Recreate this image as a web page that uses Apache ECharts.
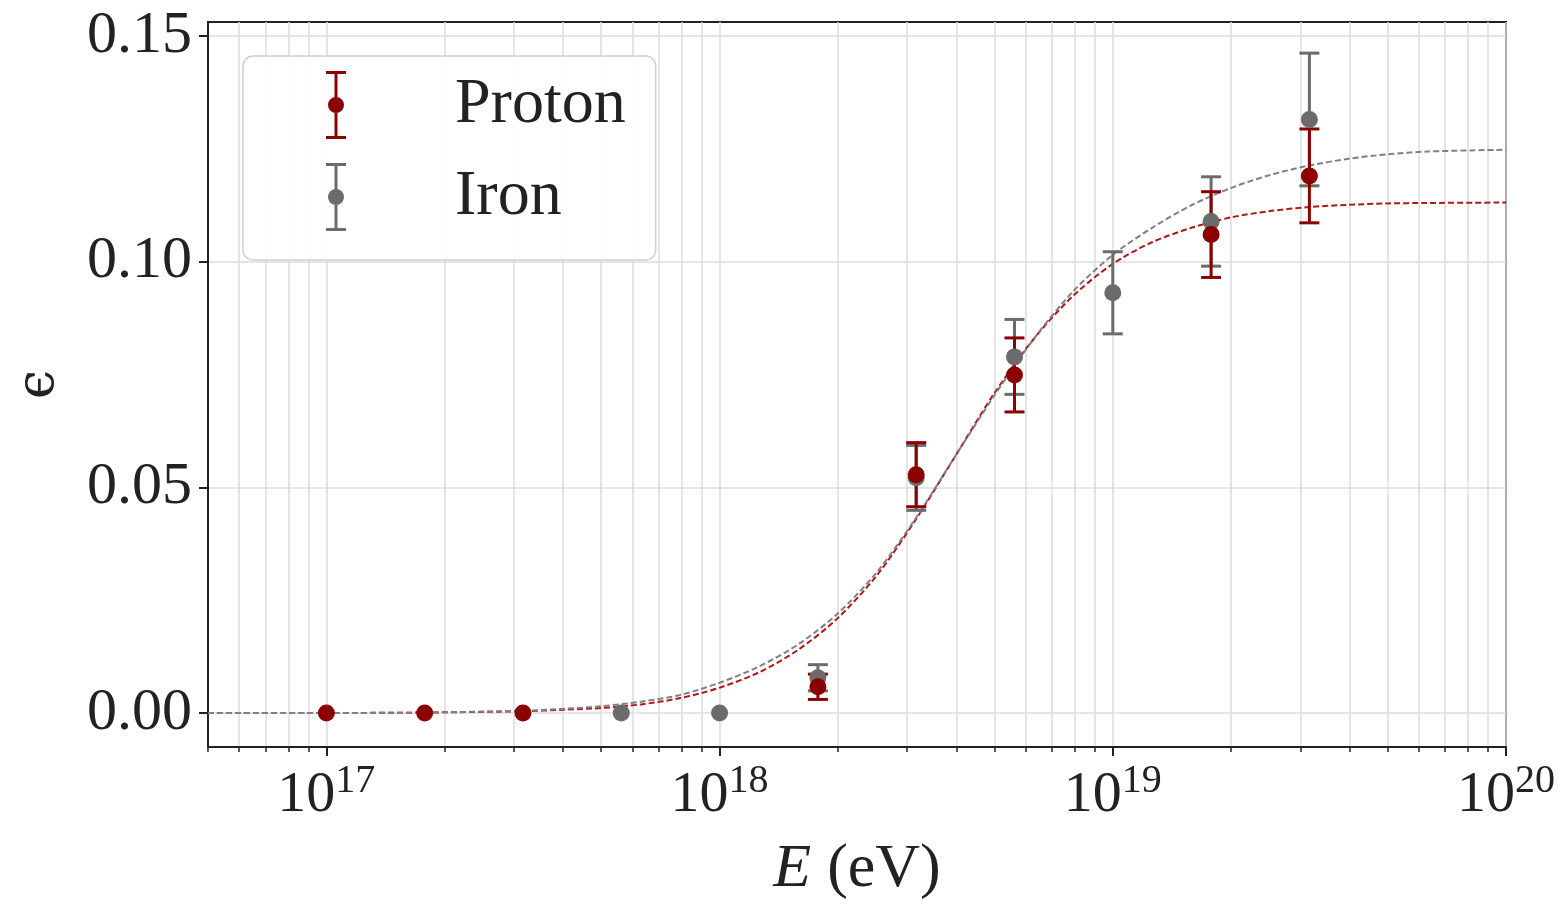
<!DOCTYPE html>
<html>
<head>
<meta charset="utf-8">
<script src="https://cdn.jsdelivr.net/npm/echarts@6/dist/echarts.min.js"></script>
<style>
  html, body { margin: 0; background: #fff; }
  #chart { width: 1561px; height: 904px; }
</style>
</head>
<body>
<div id="chart"></div>
<script>
// measured points (log10 of energy), efficiency and error half-width
const protonLogE = [17, 17.25, 17.5, 18.25, 18.5, 18.75, 19.25, 19.5];
const protonEps = [0, 0, 0, 0.0058, 0.0528, 0.0749, 0.1060, 0.1190];
const protonErr = [0, 0, 0, 0.0028, 0.0071, 0.0082, 0.0095, 0.0104];

const ironLogE = [17.75, 18, 18.25, 18.5, 18.75, 19, 19.25, 19.5];
const ironEps = [0, 0, 0.0078, 0.0521, 0.0789, 0.0931, 0.1089, 0.1315];
const ironErr = [0, 0, 0.0029, 0.0072, 0.0083, 0.0091, 0.0099, 0.0147];

// fitted curves
const fitLogE = [16.699, 17, 17.25, 17.5, 17.6, 17.7, 17.8, 17.9, 18, 18.1, 18.2, 18.3, 18.4, 18.5, 18.6, 18.7, 18.8, 18.9, 19, 19.1, 19.2, 19.3, 19.4, 19.5, 19.6, 19.7, 19.8, 20];
const protonFit = [0, 0, 0.0001, 0.0004, 0.0007, 0.0011, 0.0019, 0.0033, 0.0056, 0.0090, 0.0140, 0.0210, 0.0305, 0.0430, 0.0570, 0.0710, 0.0830, 0.0925, 0.0995, 0.1043, 0.1075, 0.1098, 0.1112, 0.1121, 0.1126, 0.1129, 0.1130, 0.1131];
const ironFit = [0, 0, 0.0001, 0.0005, 0.0009, 0.0015, 0.0025, 0.0040, 0.0067, 0.0103, 0.0152, 0.0220, 0.0312, 0.0433, 0.0570, 0.0705, 0.0830, 0.0935, 0.1015, 0.1075, 0.1125, 0.1163, 0.1192, 0.1213, 0.1228, 0.1238, 0.1244, 0.1248];

// axis ticks
const xMajorExp = [17, 18, 19, 20];
const yTicks = [0, 0.05, 0.10, 0.15];

const RED = '#8b0000';
const GRAY = '#6b6b6b';
const FONT = '"Liberation Serif", "DejaVu Serif", serif';

const xMin = 5e16, xMax = 1e20;
const yMin = -0.00754, yMax = 0.1531;

const xMajor = xMajorExp.map((p) => Math.pow(10, p));
const xAll = [];
for (let p = 16; p < 20; p++) {
  for (let d = 1; d < 10; d++) xAll.push(d * Math.pow(10, p));
}
xAll.push(1e20);

const toPoints = (logs, vals) => logs.map((l, i) => [Math.pow(10, l), vals[i]]);
const toBars = (logs, vals, errs) => logs.map((l, i) => [Math.pow(10, l), vals[i], errs[i]]);

function errorBarItem(params, api) {
  const x = api.value(0);
  const y = api.value(1);
  const e = api.value(2);
  if (!e) return null;
  const top = api.coord([x, y + e]);
  const bot = api.coord([x, y - e]);
  const half = 10;
  const style = { stroke: api.visual('color'), lineWidth: 3 };
  return {
    type: 'group',
    children: [
      { type: 'line', shape: { x1: top[0], y1: top[1], x2: bot[0], y2: bot[1] }, style },
      { type: 'line', shape: { x1: top[0] - half, y1: top[1], x2: top[0] + half, y2: top[1] }, style },
      { type: 'line', shape: { x1: bot[0] - half, y1: bot[1], x2: bot[0] + half, y2: bot[1] }, style },
    ],
  };
}

// legend glyph: capped bar with a dot (20 x 68)
const errIcon = 'path://M0,0 H20 V3 H0 Z M0,65 H20 V68 H0 Z M8.5,0 H11.5 V68 H8.5 Z M18,34 A8,8 0 1,1 2,34 A8,8 0 1,1 18,34 Z';

const chart = echarts.init(document.getElementById('chart'));

chart.setOption({
  animation: false,
  backgroundColor: '#fff',
  grid: {
    left: 208,
    right: 55,
    top: 22,
    bottom: 157,
    containLabel: false,
    outerBoundsMode: 'none',
    show: true,
    borderColor: '#222',
    borderWidth: 2,
    backgroundColor: 'transparent',
  },
  legend: {
    left: 243,
    top: 56,
    orient: 'vertical',
    padding: [15, 30, 29, 83],
    itemGap: 24,
    itemWidth: 20,
    itemHeight: 68,
    backgroundColor: 'rgba(255,255,255,0.9)',
    borderColor: '#d0d0d0',
    borderWidth: 1.5,
    borderRadius: 10,
    textStyle: {
      fontFamily: FONT,
      fontSize: 64,
      color: '#222',
      padding: [0, 0, 0, 104],
    },
    data: [
      { name: 'Proton', icon: errIcon },
      { name: 'Iron', icon: errIcon },
    ],
  },
  xAxis: [
    {
      type: 'log',
      logBase: 10,
      min: xMin,
      max: xMax,
      position: 'bottom',
      axisLine: { show: true, onZero: false, lineStyle: { color: '#222', width: 2 } },
      axisTick: { show: true, length: 9, lineStyle: { color: '#222', width: 2 }, customValues: xMajor },
      axisLabel: {
        show: true,
        margin: 14,
        customValues: xMajor,
        formatter: (v) => '{b|10}{s|' + Math.round(Math.log10(v)) + '}',
        rich: {
          b: { fontFamily: FONT, fontSize: 58, color: '#222', lineHeight: 64, verticalAlign: 'bottom' },
          s: { fontFamily: FONT, fontSize: 40, color: '#222', lineHeight: 64, verticalAlign: 'top' },
        },
      },
      splitLine: { show: false },
      name: '{i|E}{n|(eV)}',
      nameLocation: 'middle',
      nameGap: 92,
      nameMoveOverlap: false,
      nameTextStyle: {
        rich: {
          i: { fontFamily: FONT, fontSize: 62, fontStyle: 'italic', color: '#222' },
          n: { fontFamily: FONT, fontSize: 62, color: '#222', padding: [0, 0, 0, 16] },
        },
      },
    },
    {
      type: 'log',
      logBase: 10,
      min: xMin,
      max: xMax,
      position: 'bottom',
      axisLine: { show: false, onZero: false },
      axisTick: { show: true, length: 5, lineStyle: { color: '#222', width: 1.5 }, customValues: xAll },
      axisLabel: { show: false },
      splitLine: { show: true, lineStyle: { color: '#dcdcdc', width: 1.5 } },
    },
  ],
  yAxis: {
    type: 'value',
    min: yMin,
    max: yMax,
    axisLine: { show: true, onZero: false, lineStyle: { color: '#222', width: 2 } },
    axisTick: { show: true, length: 9, lineStyle: { color: '#222', width: 2 }, customValues: yTicks },
    axisLabel: {
      customValues: yTicks,
      margin: 16,
      fontFamily: FONT,
      fontSize: 60,
      color: '#222',
      formatter: (v) => v.toFixed(2),
    },
    splitLine: { show: true, lineStyle: { color: '#dcdcdc', width: 1.5 } },
    name: 'ϵ',
    nameLocation: 'middle',
    nameRotate: 90,
    nameGap: 143,
    nameMoveOverlap: false,
    nameTextStyle: { fontFamily: '"DejaVu Serif", serif', fontSize: 52, color: '#222' },
  },
  series: [
    {
      name: 'Proton fit',
      type: 'line',
      data: toPoints(fitLogE, protonFit),
      smooth: 0.3,
      showSymbol: false,
      lineStyle: { color: '#b01818', width: 2, type: [6, 3] },
      z: 2,
    },
    {
      name: 'Iron fit',
      type: 'line',
      data: toPoints(fitLogE, ironFit),
      smooth: 0.3,
      showSymbol: false,
      lineStyle: { color: '#808080', width: 2, type: [6, 3] },
      z: 2,
    },
    {
      name: 'Iron',
      type: 'custom',
      renderItem: errorBarItem,
      itemStyle: { color: GRAY },
      encode: { x: 0, y: 1 },
      data: toBars(ironLogE, ironEps, ironErr),
      z: 3,
    },
    {
      name: 'Proton',
      type: 'custom',
      renderItem: errorBarItem,
      itemStyle: { color: RED },
      encode: { x: 0, y: 1 },
      data: toBars(protonLogE, protonEps, protonErr),
      z: 3,
    },
    {
      name: 'Iron',
      type: 'scatter',
      symbolSize: 17,
      itemStyle: { color: GRAY, opacity: 1 },
      data: toPoints(ironLogE, ironEps),
      z: 4,
    },
    {
      name: 'Proton',
      type: 'scatter',
      symbolSize: 17,
      itemStyle: { color: RED, opacity: 1 },
      data: toPoints(protonLogE, protonEps),
      z: 5,
    },
  ],
});
</script>
</body>
</html>
